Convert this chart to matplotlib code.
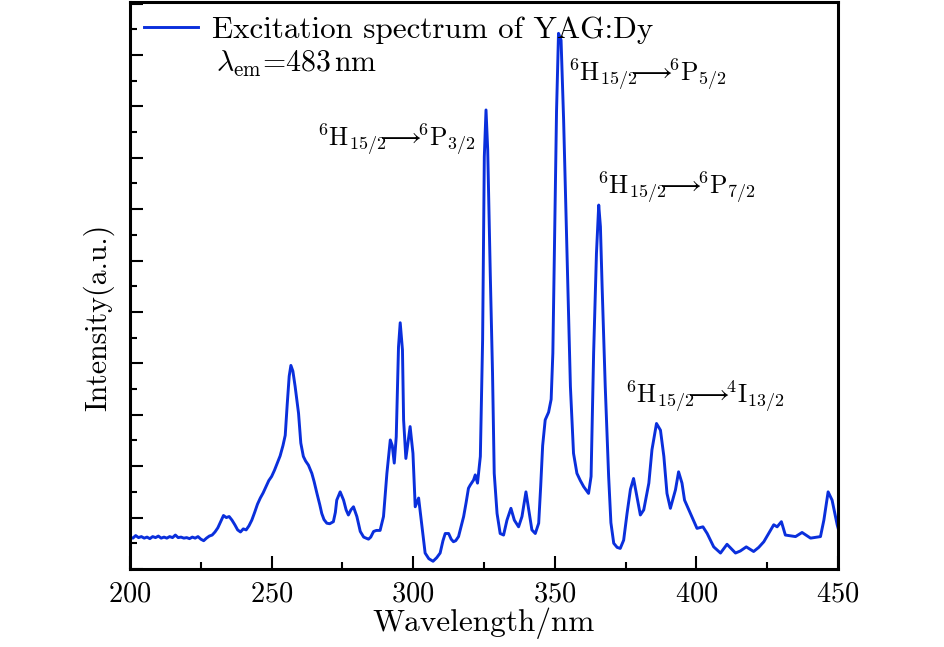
import numpy as np
import matplotlib
matplotlib.use('Agg')
import matplotlib.pyplot as plt
from matplotlib.ticker import MultipleLocator

plt.rcParams['font.family'] = 'serif'
plt.rcParams['font.serif'] = ['cmr10']
plt.rcParams['mathtext.fontset'] = 'cm'
plt.rcParams['axes.unicode_minus'] = False
plt.rcParams['axes.formatter.use_mathtext'] = True

# excitation spectrum (wavelength nm, intensity a.u.)
wavelength = [
    200, 201, 202, 203, 204, 205, 206, 207, 208, 209, 210, 211, 212, 213, 214,
    215, 216, 217, 218, 219, 220, 221, 222, 223, 224, 225, 226, 227, 228, 229,
    230, 231, 232, 233, 234, 235, 236, 237, 238, 239, 240, 241, 242, 243, 244,
    245, 246, 247, 248, 249, 250, 251, 252, 253, 254, 254.8, 255.5, 256.2,
    256.8, 257.5, 258.3, 259.0, 259.5, 260.3, 261.2, 262, 263, 264.2, 265, 266,
    267, 267.7, 268.5, 269.5, 270.5, 271.8, 272.5, 273, 274.2, 275.4, 276.3,
    277.1, 278, 278.9, 280.1, 281.3, 282.5, 284.2, 285, 286, 287, 288.3, 289.5,
    290.7, 291.9, 292.6, 293.3, 294, 294.8, 295.4, 296.2, 296.6, 297.4, 298.9,
    299.9, 300.7, 301.9, 303.1, 304.2, 305.5, 307.0, 308.3, 309.5, 310.5,
    311.3, 312.5, 313.4, 314.2, 315, 316, 317, 317.8, 318.7, 319.5, 320.1,
    321.3, 321.9, 322.7, 323.7, 324.5, 325.1, 325.7, 326.3, 327.2, 328.0,
    328.6, 329.6, 330.7, 331.9, 333.1, 334.5, 335.7, 337.2, 338.4, 339.8,
    340.8, 341.9, 343.1, 344.3, 345.0, 345.7, 346.6, 347.8, 348.7, 349.3,
    350.0, 350.6, 351.3, 352.2, 353.1, 354.3, 355.5, 356.6, 357.8, 359,
    360.2, 361.9, 362.8, 363.7, 364.7, 365.5, 366.1, 366.7, 367.8, 369.0,
    369.8, 370.8, 372, 373.1, 374.3, 375.5, 376.7, 377.8, 379.0, 380.2,
    381.4, 383.2, 384.3, 385.9, 387.3, 388.5, 389.6, 390.8, 392.6, 393.7,
    394.9, 395.8, 397.9, 400.2, 402.3, 403.8, 406.1, 408.5, 410.8, 413.8,
    415.5, 417.6, 420.2, 422, 423.8, 427.3, 428.5, 430.0, 431.4, 435.0,
    437.3, 440.3, 443.8, 445.0, 446.5, 447.9, 449.7, 450,
]
intensity = [
    0.62, 0.60, 0.65, 0.61, 0.63, 0.60, 0.62, 0.59, 0.63, 0.61, 0.64, 0.60,
    0.62, 0.60, 0.63, 0.61, 0.66, 0.61, 0.62, 0.60, 0.61, 0.59, 0.62, 0.60,
    0.63, 0.58, 0.55, 0.60, 0.64, 0.66, 0.72, 0.80, 0.92, 1.04, 1.00, 1.02,
    0.95, 0.86, 0.76, 0.72, 0.78, 0.76, 0.84, 0.95, 1.10, 1.26, 1.38, 1.48,
    1.60, 1.72, 1.80, 1.92, 2.06, 2.20, 2.40, 2.60, 3.20, 3.75, 3.96, 3.85,
    3.55, 3.25, 3.03, 2.45, 2.19, 2.10, 2.02, 1.86, 1.70, 1.47, 1.25, 1.08,
    0.96, 0.89, 0.88, 0.92, 1.10, 1.34, 1.50, 1.34, 1.15, 1.05, 1.15, 1.21,
    1.02, 0.73, 0.62, 0.58, 0.62, 0.73, 0.75, 0.75, 1.02, 1.86, 2.51, 2.40,
    2.06, 2.57, 4.32, 4.79, 4.26, 2.90, 2.15, 2.77, 2.25, 1.21, 1.38, 0.82,
    0.31, 0.20, 0.15, 0.22, 0.31, 0.55, 0.69, 0.69, 0.58, 0.53, 0.55, 0.63,
    0.85, 1.02, 1.30, 1.57, 1.63, 1.73, 1.83, 1.67, 2.19, 4.46, 8.02, 8.93,
    8.15, 5.75, 3.81, 1.86, 1.08, 0.69, 0.66, 0.95, 1.18, 0.95, 0.82, 1.02,
    1.50, 1.15, 0.76, 0.69, 0.89, 1.60, 2.40, 2.90, 3.05, 3.30, 4.20, 6.80,
    8.90, 10.42, 10.29, 8.74, 6.14, 3.55, 2.25, 1.86, 1.72, 1.60, 1.47, 1.80,
    4.20, 6.14, 7.08, 6.66, 5.49, 3.55, 1.80, 0.90, 0.50, 0.42, 0.40, 0.56,
    1.08, 1.55, 1.76, 1.41, 1.05, 1.15, 1.67, 2.32, 2.83, 2.70, 2.19, 1.47,
    1.18, 1.54, 1.89, 1.67, 1.34, 1.08, 0.79, 0.82, 0.69, 0.43, 0.31, 0.48,
    0.31, 0.35, 0.43, 0.34, 0.42, 0.53, 0.86, 0.82, 0.92, 0.66, 0.63, 0.71,
    0.60, 0.63, 0.95, 1.50, 1.34, 0.86, 0.80,
]

# transition labels: (text, left x in nm, baseline y)
labels = [
    r'$^{6}$H$_{15/2}\!\!\!\longrightarrow\!\!{}^{6}$P$_{3/2}$',
    r'$^{6}$H$_{15/2}\!\!\!\longrightarrow\!\!{}^{6}$P$_{5/2}$',
    r'$^{6}$H$_{15/2}\!\!\!\longrightarrow\!\!{}^{6}$P$_{7/2}$',
    r'$^{6}$H$_{15/2}\!\!\!\longrightarrow\!\!{}^{4}$I$_{13/2}$',
]
label_x = [266.1, 354.8, 364.9, 374.9]
label_y = [8.22, 9.48, 7.28, 3.22]

fig = plt.figure(figsize=(9.45, 6.47), dpi=100)
ax = fig.add_axes([0.1376, 0.1206, 0.7492, 0.8763])

ax.plot(wavelength, intensity, color='#0a2fdc', lw=2.1,
        label='Excitation spectrum of YAG:Dy')

for t, lx, ly in zip(labels, label_x, label_y):
    ax.text(lx, ly, t, fontsize=18.5, ha='left', va='baseline')

ax.text(0.121, 0.877, r'$\lambda_{\mathrm{em}}$=483$\,$nm', fontsize=21.5,
        transform=ax.transAxes, ha='left', va='baseline')

ax.legend(loc='upper left', frameon=False, fontsize=22.4, handlelength=1.75,
          handletextpad=0.45, borderaxespad=0.2, borderpad=0.25)

ax.set_xlim(200, 450)
ax.set_ylim(0, 11.03)
ax.xaxis.set_major_locator(MultipleLocator(50))
ax.xaxis.set_minor_locator(MultipleLocator(25))
ax.yaxis.set_major_locator(MultipleLocator(1))
ax.yaxis.set_minor_locator(MultipleLocator(0.5))
ax.set_yticklabels([])
ax.tick_params(which='both', direction='in', top=False, right=False, width=1.5)
ax.tick_params(which='major', length=9.5, labelsize=20.5, pad=9)
ax.tick_params(which='minor', length=4.7)
for s in ax.spines.values():
    s.set_linewidth(2.2)

ax.set_xlabel('Wavelength/nm', fontsize=22.5, labelpad=0)
ax.set_ylabel('Intensity(a.u.)', fontsize=21.5)
ax.yaxis.set_label_coords(-0.022, 0.443)

fig.savefig('out.png', dpi=100)
